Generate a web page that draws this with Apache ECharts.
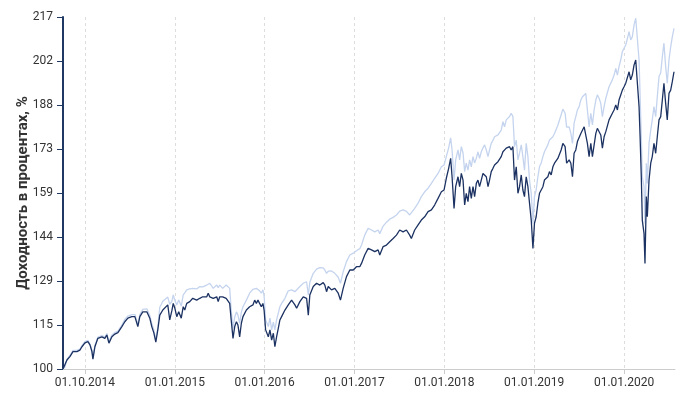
<!DOCTYPE html>
<html><head><meta charset="utf-8">
<script src="https://cdn.jsdelivr.net/npm/echarts@6/dist/echarts.min.js"></script>
<style>html,body{margin:0;padding:0;background:#fff}#c{width:681px;height:394px}</style>
</head><body><div id="c"></div>
<script>
// time as decimal years
const years = [2013.756,2013.778,2013.800,2013.833,2013.867,2013.911,2013.944,2013.967,2014.000,2014.033,2014.056,2014.078,2014.089,2014.111,2014.144,2014.189,2014.222,2014.244,2014.267,2014.300,2014.333,2014.367,2014.411,2014.444,2014.478,2014.522,2014.556,2014.578,2014.589,2014.611,2014.644,2014.689,2014.722,2014.744,2014.767,2014.789,2014.811,2014.833,2014.867,2014.889,2014.922,2014.944,2014.967,2014.983,
2015.000,2015.022,2015.044,2015.072,2015.094,2015.111,2015.133,2015.167,2015.200,2015.244,2015.278,2015.311,2015.356,2015.372,2015.389,2015.411,2015.428,2015.467,2015.483,2015.500,2015.533,2015.572,2015.594,2015.611,2015.628,2015.648,2015.667,2015.686,2015.703,2015.722,2015.741,2015.759,2015.797,2015.833,2015.870,2015.889,2015.908,2015.926,2015.944,2015.963,2015.981,2015.994,
2016.011,2016.041,2016.059,2016.078,2016.097,2016.114,2016.133,2016.152,2016.170,2016.189,2016.226,2016.263,2016.300,2016.337,2016.356,2016.392,2016.430,2016.467,2016.486,2016.503,2016.541,2016.578,2016.614,2016.652,2016.670,2016.689,2016.708,2016.744,2016.781,2016.819,2016.844,2016.874,2016.911,2016.948,2016.986,
2017.022,2017.059,2017.078,2017.114,2017.152,2017.189,2017.226,2017.263,2017.281,2017.319,2017.356,2017.392,2017.430,2017.467,2017.503,2017.541,2017.578,2017.614,2017.633,2017.670,2017.708,2017.744,2017.781,2017.819,2017.856,2017.892,2017.930,2017.967,2017.997,
2018.022,2018.048,2018.070,2018.086,2018.108,2018.126,2018.152,2018.170,2018.189,2018.208,2018.226,2018.244,2018.263,2018.281,2018.300,2018.319,2018.337,2018.356,2018.374,2018.392,2018.411,2018.430,2018.448,2018.467,2018.486,2018.503,2018.522,2018.541,2018.559,2018.597,2018.633,2018.652,2018.670,2018.689,2018.726,2018.744,2018.763,2018.781,2018.800,2018.819,2018.837,2018.856,2018.874,2018.892,2018.911,2018.930,2018.948,2018.967,2018.986,
2019.003,2019.022,2019.041,2019.059,2019.078,2019.097,2019.114,2019.152,2019.170,2019.189,2019.208,2019.226,2019.263,2019.300,2019.319,2019.344,2019.361,2019.389,2019.408,2019.426,2019.444,2019.463,2019.481,2019.500,2019.519,2019.537,2019.556,2019.574,2019.592,2019.611,2019.630,2019.648,2019.667,2019.686,2019.703,2019.722,2019.741,2019.759,2019.778,2019.797,2019.833,2019.870,2019.889,2019.908,2019.926,2019.944,2019.963,2019.981,
2020.000,2020.019,2020.037,2020.056,2020.074,2020.092,2020.111,2020.130,2020.148,2020.167,2020.178,2020.192,2020.203,2020.222,2020.233,2020.248,2020.259,2020.278,2020.297,2020.314,2020.333,2020.352,2020.370,2020.389,2020.408,2020.426,2020.444,2020.463,2020.481,2020.500,2020.519,2020.537,2020.556];

const darkValues = [100.0,100.3,103.0,104.1,105.8,105.8,106.3,107.4,108.7,109.1,108.0,105.8,103.3,107.4,110.2,110.7,110.2,111.3,108.6,110.7,111.6,112.1,114.1,115.7,116.9,117.4,117.4,116.9,114.1,117.4,119.0,119.0,116.9,114.1,112.0,108.9,113.0,117.9,119.6,120.2,121.3,116.3,119.3,121.8,
120.3,117.4,119.0,116.9,120.7,119.6,121.8,122.4,123.5,122.9,123.5,124.0,124.0,125.2,124.0,124.6,123.5,124.0,122.4,124.0,124.0,123.5,122.9,121.8,116.3,110.2,114.1,115.7,114.6,110.7,115.2,117.4,119.6,120.7,121.3,122.9,121.8,122.9,121.8,120.7,121.8,119.6,
113.0,110.7,113.0,109.6,111.9,107.4,110.7,113.5,116.3,117.4,119.6,121.3,122.9,121.3,120.2,122.4,124.0,123.5,117.9,124.6,127.4,128.5,127.9,128.7,127.9,125.7,127.4,126.3,126.8,125.2,122.9,126.8,130.7,132.9,132.9,
134.0,134.0,135.1,137.9,140.1,139.6,139.0,139.6,137.9,140.7,141.2,142.3,143.4,144.5,146.2,145.6,146.2,144.5,143.4,146.2,147.9,149.5,150.6,152.3,152.9,154.5,156.7,158.9,159.5,
163.4,166.7,170.0,163.9,153.4,160.6,163.9,160.6,165.0,162.8,154.5,158.4,155.6,160.6,156.7,160.6,157.3,161.7,162.8,160.6,162.8,165.0,165.6,163.9,160.6,162.8,165.6,166.7,167.8,168.9,170.6,172.2,171.7,173.4,173.9,172.8,173.9,162.8,167.2,158.4,160.6,164.5,159.5,157.3,163.9,160.6,155.1,149.5,140.1,
148.4,150.6,155.1,158.4,158.4,160.6,162.8,163.9,165.6,164.5,167.2,168.4,170.0,172.8,175.0,173.9,168.4,169.5,168.4,163.9,171.7,172.8,175.6,176.1,178.3,178.9,180.5,180.0,175.0,170.6,175.0,170.6,174.5,178.3,180.0,179.4,177.8,173.4,177.2,178.9,182.8,185.0,186.1,187.8,186.1,189.4,191.1,192.7,
193.8,195.0,195.5,198.8,196.1,197.7,201.0,202.7,203.3,187.2,177.8,163.9,149.5,145.1,135.1,157.3,150.6,162.8,168.4,170.6,175.0,171.7,177.2,182.8,183.9,189.4,195.0,188.3,182.8,191.6,192.7,195.5,198.8];

const lightValues = [100.0,100.7,103.3,104.5,106.2,106.2,106.6,107.8,109.1,109.5,108.3,106.2,103.8,107.8,110.6,111.1,110.6,111.8,109.1,111.3,112.1,112.6,114.6,116.5,117.6,118.1,118.1,117.6,114.8,118.1,119.8,120.0,117.8,115.1,113.0,109.6,114.0,120.5,122.5,122.6,123.9,121.5,122.5,124.6,
122.9,121.3,122.9,120.9,124.6,125.3,126.3,126.6,126.8,126.6,127.4,127.3,127.9,128.3,128.5,127.9,126.8,127.9,127.0,127.9,126.8,127.9,127.4,126.8,119.6,113.5,117.3,119.0,117.9,115.2,118.9,120.7,122.9,125.2,126.5,126.3,126.8,127.4,126.0,125.2,126.3,124.3,
116.3,114.1,116.9,113.0,115.6,113.0,116.3,118.6,120.7,121.8,123.5,126.0,126.3,125.7,125.2,127.4,128.5,129.0,124.6,128.8,131.8,133.2,133.7,133.6,132.9,131.8,132.5,132.6,131.8,130.5,128.5,132.3,135.7,137.9,138.5,
139.3,140.0,141.2,144.5,146.8,146.2,145.6,146.2,145.0,147.5,148.8,149.8,150.4,151.2,152.5,152.9,152.4,151.2,150.6,153.4,155.1,157.3,158.9,160.1,161.7,163.4,165.0,167.2,167.8,
170.6,173.5,176.8,172.8,162.8,169.5,172.8,169.5,173.9,171.8,165.6,168.4,166.1,169.5,167.2,170.6,168.5,170.1,172.2,170.0,172.2,173.5,174.5,172.8,170.6,172.8,175.0,176.0,177.2,177.8,179.4,182.2,180.5,182.8,183.9,185.0,183.9,173.9,176.1,169.5,171.8,174.5,170.6,166.1,175.0,170.6,162.8,158.4,148.4,
157.3,159.5,163.9,167.2,168.5,170.6,172.2,174.5,176.1,175.8,177.2,178.3,181.0,184.5,186.4,185.0,180.4,180.5,178.3,175.0,181.7,183.9,186.1,187.2,189.4,190.5,191.1,191.6,186.1,180.5,185.0,181.1,186.1,189.4,191.1,190.0,188.3,183.9,187.2,190.0,193.8,196.1,197.7,199.9,197.7,200.5,202.7,205.5,
206.6,207.7,208.3,212.1,209.4,210.4,214.3,216.6,216.0,202.7,191.6,177.2,163.9,160.6,148.4,168.4,161.7,175.0,179.4,182.8,187.2,183.9,190.5,197.2,198.4,203.8,208.3,200.5,195.0,202.7,207.1,210.4,213.2];

const xTickYears = [2014, 2015, 2016, 2017, 2018, 2019, 2020];
const xTickLabels = ['01.10.2014', '01.01.2015', '01.01.2016', '01.01.2017', '01.01.2018', '01.01.2019', '01.01.2020'];
const yTickLabels = ['100', '115', '129', '144', '159', '173', '188', '202', '217'];
const yMin = 100, yMax = 217;
const xMin = 2013.756, xMax = 2020.567;
const yAxisName = 'Доходность в процентах, %';

const yTickValues = yTickLabels.map((_, i) => yMin + i * (yMax - yMin) / (yTickLabels.length - 1));
const pair = (vals) => vals.map((v, i) => [years[i], v]);

const chart = echarts.init(document.getElementById('c'), null, {renderer: 'canvas'});
chart.setOption({
  animation: false,
  backgroundColor: '#ffffff',
  textStyle: {fontFamily: 'Roboto, "DejaVu Sans", sans-serif'},
  grid: {left: 63, right: 6, top: 17, bottom: 25, containLabel: false},
  xAxis: {
    type: 'value', min: xMin, max: xMax,
    axisLine: {show: true, lineStyle: {color: '#cccccc', width: 1}},
    axisTick: {show: true, length: 5, customValues: xTickYears, lineStyle: {color: '#cccccc'}},
    axisLabel: {
      customValues: xTickYears, color: '#333333', fontSize: 12, margin: 8,
      formatter: (v) => { const i = xTickYears.indexOf(Math.round(v)); return i >= 0 ? xTickLabels[i] : ''; }
    },
    splitLine: {show: true, lineStyle: {color: '#dddddd', type: [3, 3], width: 1}}
  },
  yAxis: {
    type: 'value', min: yMin, max: yMax,
    name: yAxisName, nameLocation: 'middle', nameGap: 32, nameRotate: 90, nameMoveOverlap: false,
    nameTextStyle: {fontSize: 15, fontWeight: 'bold', color: '#333333'},
    axisLine: {show: true, lineStyle: {color: '#1f3864', width: 2}},
    axisTick: {show: true, length: 6, customValues: yTickValues, lineStyle: {color: '#1f3864'}},
    axisLabel: {
      customValues: yTickValues, color: '#333333', fontSize: 12, margin: 10,
      formatter: (v) => { let b = 0; yTickValues.forEach((t, i) => { if (Math.abs(t - v) < Math.abs(yTickValues[b] - v)) b = i; }); return yTickLabels[b]; }
    },
    splitLine: {show: false}
  },
  series: [
    {name: 'light', type: 'line', data: pair(lightValues), showSymbol: false, symbol: 'none',
     lineStyle: {color: '#c5d4ee', width: 1.3}, z: 2},
    {name: 'dark', type: 'line', data: pair(darkValues), showSymbol: false, symbol: 'none',
     lineStyle: {color: '#1c3262', width: 1.3}, z: 3}
  ]
});
</script></body></html>
